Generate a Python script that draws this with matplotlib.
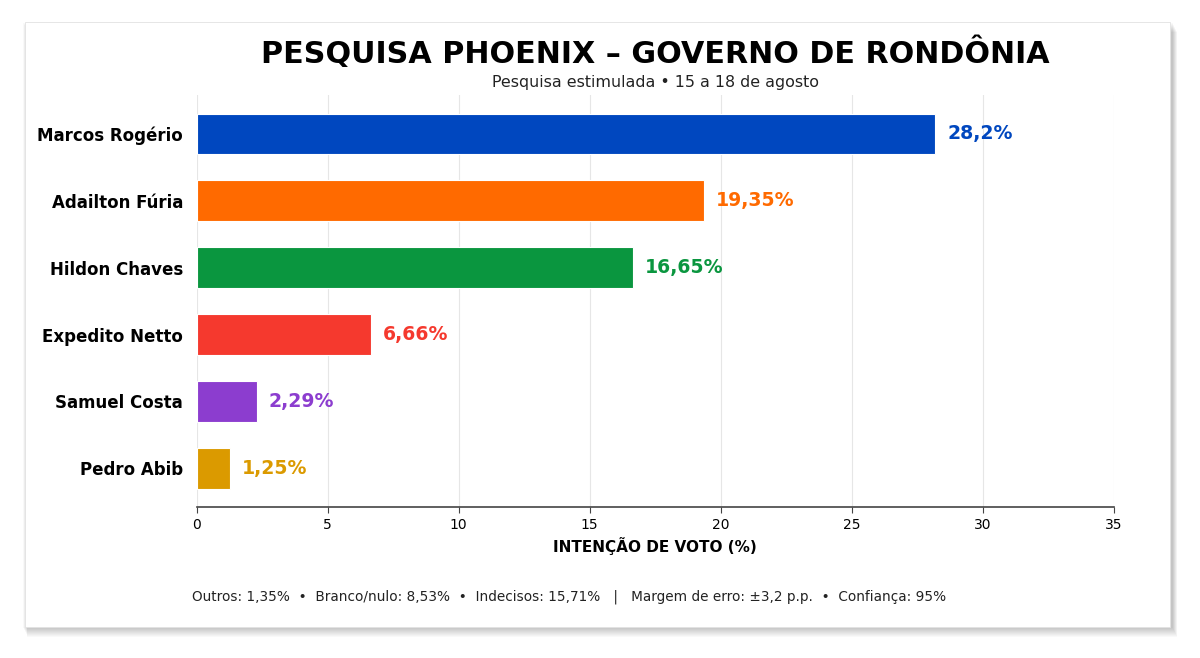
import matplotlib
matplotlib.use('Agg')
import matplotlib.pyplot as plt
from matplotlib.patches import Rectangle

plt.rcParams['font.family'] = ['DejaVu Sans']

# data
candidatos = ['Marcos Rogério', 'Adailton Fúria', 'Hildon Chaves',
              'Expedito Netto', 'Samuel Costa', 'Pedro Abib']
valores = [28.2, 19.35, 16.65, 6.66, 2.29, 1.25]
rotulos = ['28,2%', '19,35%', '16,65%', '6,66%', '2,29%', '1,25%']
cores = ['#0047BF', '#FF6A00', '#0A963F', '#F5392E', '#8C3DCF', '#DB9A00']
xticks = [0, 5, 10, 15, 20, 25, 30, 35]

titulo = 'PESQUISA PHOENIX – GOVERNO DE RONDÔNIA'
subtitulo = 'Pesquisa estimulada • 15 a 18 de agosto'
rodape = ('Outros: 1,35%  •  Branco/nulo: 8,53%  •  Indecisos: 15,71%   |   '
          'Margem de erro: ±3,2 p.p.  •  Confiança: 95%')

fig = plt.figure(figsize=(12, 6.58), dpi=100)
fig.patch.set_facecolor('white')

# card with soft shadow
cx0, cy0, cw, ch = 0.021, 0.047, 0.954, 0.920
for i in range(10):
    off = 0.0013 * (i + 1)
    fig.patches.append(Rectangle((cx0 - 0.002 + off * 0.3, cy0 - off * 1.2), cw + 0.004, ch,
                                 transform=fig.transFigure, facecolor='black',
                                 alpha=0.025, edgecolor='none', zorder=0))
fig.patches.append(Rectangle((cx0, cy0), cw, ch, transform=fig.transFigure,
                             facecolor='white', edgecolor='#e2e2e2', linewidth=0.6, zorder=1))

ax = fig.add_axes([0.164, 0.229, 0.764, 0.627])
ax.set_zorder(2)
ax.set_facecolor('none')
pos = list(range(len(candidatos)))
ax.barh(pos, valores, height=0.6, color=cores, edgecolor='white', linewidth=0.8, zorder=3)
for p, v, r, c in zip(pos, valores, rotulos, cores):
    ax.text(v + 0.45, p, r, va='center', ha='left', fontsize=13.6,
            fontweight='bold', color=c, zorder=4)

ax.set_xlim(0, 35)
ax.set_ylim(5.58, -0.58)
ax.set_xticks(xticks)
ax.set_xticklabels([str(t) for t in xticks], fontsize=10)
ax.set_yticks(pos)
ax.set_yticklabels(candidatos, fontsize=12, fontweight='bold')
ax.tick_params(axis='y', length=0, pad=10)
ax.tick_params(axis='x', length=4, color='#444444')
ax.grid(axis='x', color='#e6e6e6', linewidth=0.8, zorder=0)
ax.set_axisbelow(True)
for s in ['top', 'right', 'left']:
    ax.spines[s].set_visible(False)
ax.spines['bottom'].set_color('#444444')
ax.spines['bottom'].set_linewidth(1.2)
ax.set_xlabel('INTENÇÃO DE VOTO (%)', fontsize=11, fontweight='bold', labelpad=4)

fig.text(0.546, 0.920, titulo, ha='center', va='center', fontsize=21.7,
         fontweight='bold', zorder=3)
fig.text(0.546, 0.875, subtitulo, ha='center', va='center', fontsize=11.4,
         color='#222222', zorder=3)
fig.text(0.160, 0.093, rodape, ha='left', va='center', fontsize=9.85,
         color='#222222', zorder=3)

fig.savefig('out.png', dpi=100)
